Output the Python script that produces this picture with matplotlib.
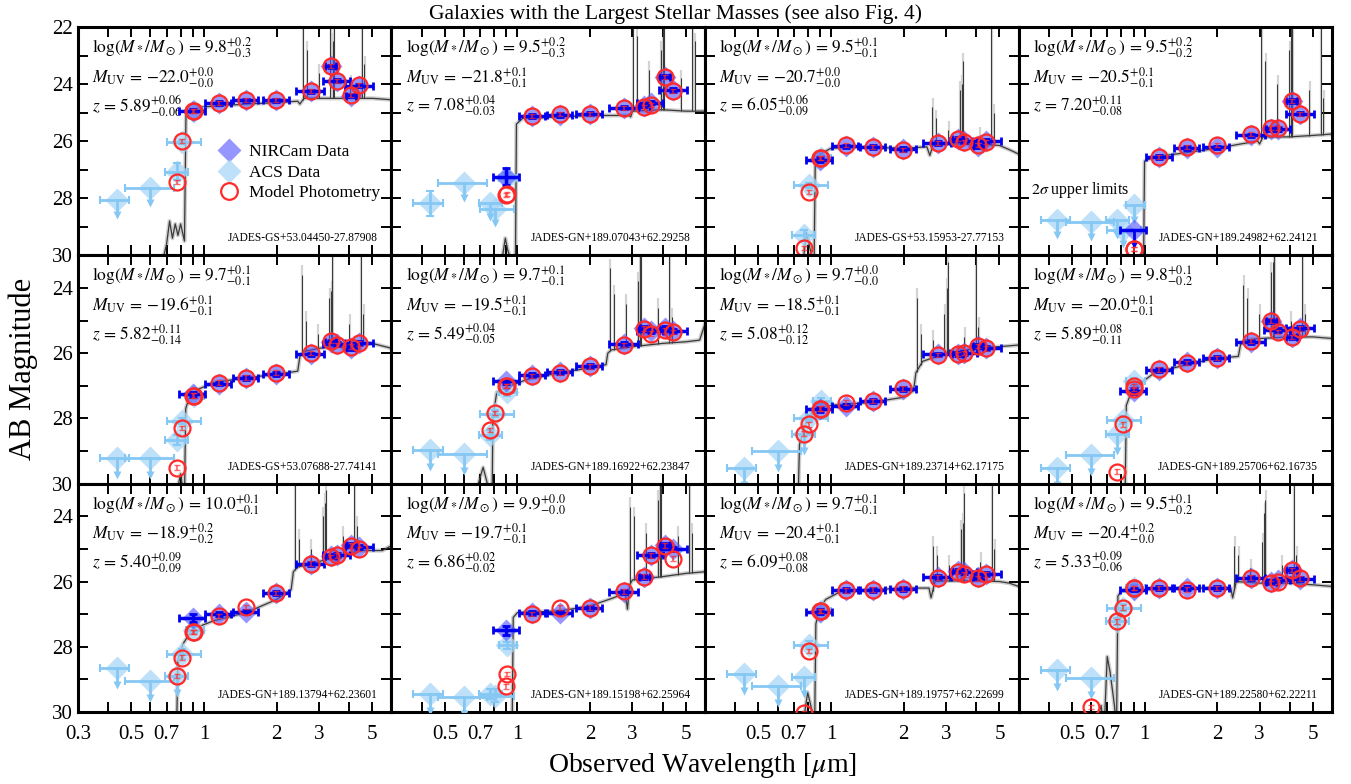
import matplotlib
matplotlib.use('Agg')
import matplotlib.pyplot as plt
from matplotlib.lines import Line2D
import numpy as np

plt.rcParams['font.family'] = 'serif'
plt.rcParams['font.serif'] = ['Liberation Serif', 'DejaVu Serif']
plt.rcParams['mathtext.fontset'] = 'stix'

# ---- filters (centre and edges, micron)
acs_wave = [0.435, 0.60, 0.77, 0.81, 0.905]
acs_lo = [0.37, 0.47, 0.69, 0.70, 0.84]
acs_hi = [0.49, 0.75, 0.86, 0.97, 1.00]
nrc_wave = [0.90, 1.15, 1.50, 1.99, 2.77, 3.36, 3.57, 4.08, 4.40]
nrc_lo = [0.79, 1.01, 1.32, 1.75, 2.40, 3.18, 3.13, 3.87, 3.85]
nrc_hi = [1.01, 1.30, 1.68, 2.25, 3.15, 3.53, 4.02, 4.29, 5.05]

# ---- panel labels
gal_id = ['JADES-GS+53.04450-27.87908', 'JADES-GN+189.07043+62.29258',
          'JADES-GS+53.15953-27.77153', 'JADES-GN+189.24982+62.24121',
          'JADES-GS+53.07688-27.74141', 'JADES-GN+189.16922+62.23847',
          'JADES-GN+189.23714+62.17175', 'JADES-GN+189.25706+62.16735',
          'JADES-GN+189.13794+62.23601', 'JADES-GN+189.15198+62.25964',
          'JADES-GN+189.19757+62.22699', 'JADES-GN+189.22580+62.22211']
mass = [('9.8', '0.2', '0.3'), ('9.5', '0.2', '0.3'), ('9.5', '0.1', '0.1'), ('9.5', '0.2', '0.2'),
        ('9.7', '0.1', '0.1'), ('9.7', '0.1', '0.1'), ('9.7', '0.0', '0.0'), ('9.8', '0.1', '0.2'),
        ('10.0', '0.1', '0.1'), ('9.9', '0.0', '0.0'), ('9.7', '0.1', '0.1'), ('9.5', '0.1', '0.2')]
muv = [('22.0', '0.0', '0.0'), ('21.8', '0.1', '0.1'), ('20.7', '0.0', '0.0'), ('20.5', '0.1', '0.1'),
       ('19.6', '0.1', '0.1'), ('19.5', '0.1', '0.1'), ('18.5', '0.1', '0.1'), ('20.0', '0.1', '0.1'),
       ('18.9', '0.2', '0.2'), ('19.7', '0.1', '0.1'), ('20.4', '0.1', '0.1'), ('20.4', '0.2', '0.0')]
zlab = [('5.89', '0.06', '0.06'), ('7.08', '0.04', '0.03'), ('6.05', '0.06', '0.09'), ('7.20', '0.11', '0.08'),
        ('5.82', '0.11', '0.14'), ('5.49', '0.04', '0.05'), ('5.08', '0.12', '0.12'), ('5.89', '0.08', '0.11'),
        ('5.40', '0.09', '0.09'), ('6.86', '0.02', '0.02'), ('6.09', '0.08', '0.08'), ('5.33', '0.09', '0.06')]

# ---- model spectrum: continuum breakpoints
cont_wave = [
    [0.66, 0.70, 0.72, 0.74, 0.76, 0.78, 0.80, 0.83, 0.842, 0.87, 1.0, 1.5, 2.0, 2.45, 2.5, 2.6, 3.0, 4.0, 5.0, 6.0],
    [0.85, 0.89, 0.91, 0.95, 0.98, 0.99, 1.05, 1.5, 2.0, 2.9, 2.95, 3.0, 4.0, 5.0, 6.0],
    [0.76, 0.79, 0.82, 0.85, 0.86, 0.9, 1.0, 1.2, 2.0, 2.5, 2.57, 2.65, 3.0, 4.0, 5.0, 5.5, 6.0],
    [0.95, 0.99, 1.0, 1.1, 1.5, 2.0, 2.5, 2.95, 3.0, 3.1, 4.0, 5.0, 6.0],
    [0.76, 0.80, 0.83, 0.84, 0.87, 0.95, 1.1, 1.5, 2.0, 2.45, 2.5, 2.6, 3.0, 4.0, 5.0, 6.0],
    [0.66, 0.70, 0.72, 0.75, 0.785, 0.79, 0.82, 0.9, 1.1, 1.5, 2.0, 2.33, 2.37, 2.45, 3.0, 4.0, 5.0, 5.7, 6.0],
    [0.70, 0.73, 0.74, 0.78, 0.85, 1.0, 1.5, 2.0, 2.2, 2.25, 2.4, 3.0, 4.0, 5.0, 6.0],
    [0.79, 0.83, 0.84, 0.87, 0.95, 1.1, 1.5, 2.0, 2.45, 2.5, 2.6, 3.0, 4.0, 5.0, 6.0],
    [0.75, 0.77, 0.78, 0.82, 0.9, 1.1, 1.5, 2.0, 2.3, 2.35, 2.45, 2.8, 3.5, 4.5, 5.5, 6.0],
    [0.92, 0.95, 0.96, 1.0, 1.5, 2.0, 2.5, 2.8, 2.86, 2.92, 3.0, 4.0, 5.0, 6.0],
    [0.76, 0.80, 0.83, 0.855, 0.865, 0.9, 0.95, 1.1, 1.5, 2.0, 2.55, 2.6, 2.7, 3.0, 4.0, 5.0, 5.5, 6.0],
    [0.62, 0.66, 0.68, 0.70, 0.72, 0.75, 0.765, 0.775, 0.8, 1.0, 1.5, 2.0, 2.28, 2.32, 2.4, 3.0, 4.0, 5.0, 6.0],
]
cont_mag = [
    [30.5, 29.6, 28.8, 29.4, 28.9, 29.3, 28.9, 29.5, 25.1, 24.9, 24.8, 24.7, 24.65, 24.6, 24.7, 24.5, 24.5, 24.5, 24.5, 24.55],
    [30.5, 29.4, 29.8, 30.3, 30.5, 25.4, 25.2, 25.15, 25.1, 25.1, 25.15, 24.95, 24.9, 24.95, 24.95],
    [30.5, 29.2, 29.8, 30.5, 26.8, 26.45, 26.25, 26.2, 26.25, 26.2, 26.5, 26.15, 26.1, 26.1, 26.15, 26.3, 26.45],
    [30.5, 30.5, 26.7, 26.55, 26.4, 26.25, 26.1, 26.0, 26.1, 25.85, 25.85, 25.8, 25.75],
    [30.5, 29.7, 30.5, 27.7, 27.35, 27.1, 26.9, 26.75, 26.65, 26.55, 26.1, 25.95, 25.85, 25.75, 25.7, 25.85],
    [30.5, 29.8, 29.5, 30.0, 30.5, 28.0, 27.2, 27.05, 26.8, 26.6, 26.45, 26.35, 26.0, 25.9, 25.8, 25.7, 25.65, 25.6, 25.1],
    [30.5, 30.5, 28.8, 28.2, 27.7, 27.6, 27.5, 27.35, 27.15, 26.6, 26.25, 26.0, 25.85, 25.8, 25.75],
    [30.5, 30.5, 27.6, 27.3, 26.95, 26.6, 26.35, 26.15, 26.1, 25.75, 25.6, 25.55, 25.5, 25.5, 25.55],
    [30.5, 30.5, 28.4, 27.9, 27.45, 27.2, 26.95, 26.55, 26.25, 25.7, 25.55, 25.45, 25.25, 25.05, 25.05, 24.9],
    [30.5, 30.5, 27.1, 26.95, 26.9, 26.75, 26.5, 26.35, 26.85, 26.1, 25.95, 25.85, 25.75, 25.7],
    [30.5, 29.4, 29.9, 30.5, 27.3, 26.8, 26.55, 26.3, 26.25, 26.2, 26.2, 26.5, 26.0, 25.98, 25.98, 26.0, 26.05, 26.15],
    [30.5, 29.8, 30.5, 28.3, 28.8, 29.8, 30.5, 26.45, 26.3, 26.25, 26.2, 26.2, 26.2, 26.5, 26.0, 26.05, 26.05, 26.1, 26.15],
]

# emission lines: rest wavelengths and peak magnitudes per panel
line_rest = [0.3727, 0.3869, 0.4341, 0.4861, 0.4959, 0.5007, 0.5876, 0.6563, 0.6725]
zval = [5.89, 7.08, 6.05, 7.20, 5.82, 5.49, 5.08, 5.89, 5.40, 6.86, 6.09, 5.33]
line_peak = [
    [21.0, 22.8, 23.6, 21.0, 22.5, 21.0, 24.0, 21.0, 23.3],
    [21.0, 22.3, 23.5, 22.8, 21.0, 21.0, 23.8, 21.0, 22.5],
    [24.8, 25.2, 25.6, 24.2, 24.0, 23.2, 25.8, 21.0, 25.0],
    [21.0, 23.2, 24.0, 22.8, 21.0, 21.0, 24.2, 21.0, 24.5],
    [23.6, 25.0, 25.4, 24.3, 24.1, 21.0, 25.1, 21.0, 24.8],
    [23.4, 24.2, 24.5, 23.8, 23.0, 21.0, 24.6, 21.0, 24.9],
    [24.3, 25.4, 25.6, 24.8, 24.0, 23.2, 25.5, 21.0, 25.2],
    [23.9, 24.3, 24.8, 23.5, 23.2, 21.0, 25.0, 21.0, 24.8],
    [21.0, 24.7, 25.0, 24.0, 23.6, 23.2, 24.6, 21.0, 24.3],
    [23.7, 24.0, 24.5, 23.5, 21.0, 21.0, 24.6, 21.0, 24.5],
    [24.9, 25.2, 25.5, 24.4, 24.2, 23.3, 25.4, 21.0, 25.0],
    [24.9, 25.2, 25.6, 24.8, 23.9, 23.5, 25.5, 21.0, 25.2],
]

# ---- NIRCam photometry (F090W F115W F150W F200W F277W F335M F356W F410M F444W)
nrc_mag = [
    [24.94, 24.67, 24.57, 24.57, 24.26, 23.38, 23.88, 24.41, 24.06],
    [27.24, 25.12, 25.08, 25.04, 24.83, 24.76, 24.65, 23.74, 24.21],
    [26.65, 26.18, 26.20, 26.28, 26.06, 25.92, 26.00, 26.18, 26.00],
    [29.12, 26.56, 26.24, 26.22, 25.80, 25.59, 25.57, 24.59, 25.04],
    [27.26, 26.93, 26.75, 26.63, 26.04, 25.65, 25.73, 25.84, 25.68],
    [26.86, 26.67, 26.57, 26.40, 25.73, 25.24, 25.33, 25.24, 25.33],
    [27.72, 27.62, 27.47, 27.09, 26.04, 26.02, 25.99, 25.78, 25.84],
    [27.16, 26.52, 26.27, 26.14, 25.65, 25.02, 25.30, 25.51, 25.22],
    [27.11, 26.99, 26.94, 26.35, 25.47, 25.23, 25.20, 24.89, 24.94],
    [27.50, 26.97, 26.95, 26.80, 26.32, 25.86, 25.20, 24.89, 24.99],
    [26.93, 26.27, 26.25, 26.22, 25.86, 25.68, 25.71, 25.86, 25.78],
    [26.25, 26.20, 26.20, 26.20, 25.88, 26.01, 25.96, 25.66, 25.91],
]
nrc_f090_err = [0.05, 0.3, 0.08, 0.3, 0.08, 0.08, 0.08, 0.08, 0.12, 0.15, 0.08, 0.05]
nrc_ul_panel = [3]          # F090W only an upper limit here
nrc_model = [
    [24.95, 24.65, 24.55, 24.55, 24.25, 23.35, 23.90, 24.40, 24.05],
    [27.87, 25.12, 25.05, 25.05, 24.83, 24.80, 24.72, 23.74, 24.23],
    [26.60, 26.15, 26.20, 26.30, 26.05, 25.93, 26.02, 26.15, 26.02],
    [29.77, 26.55, 26.20, 26.15, 25.75, 25.55, 25.55, 24.60, 25.05],
    [27.30, 26.90, 26.75, 26.60, 26.00, 25.62, 25.75, 25.80, 25.70],
    [27.00, 26.70, 26.60, 26.40, 25.75, 25.25, 25.40, 25.30, 25.35],
    [27.70, 27.52, 27.47, 27.08, 26.05, 26.03, 26.00, 25.78, 25.85],
    [27.10, 26.50, 26.30, 26.15, 25.62, 25.00, 25.35, 25.50, 25.25],
    [27.55, 27.05, 26.78, 26.35, 25.45, 25.25, 25.20, 24.90, 25.00],
    [29.21, 27.00, 26.80, 26.80, 26.30, 25.85, 25.20, 24.90, 25.30],
    [26.90, 26.27, 26.25, 26.22, 25.88, 25.70, 25.78, 25.90, 25.78],
    [26.20, 26.20, 26.25, 26.20, 25.88, 26.05, 26.00, 25.65, 25.90],
]

# ---- ACS photometry (F435W F606W F775W F814W F850LP); nan = off the plot
nan = np.nan
acs_mag = [
    [28.05, 27.65, 27.07, 26.03, 24.95],
    [28.18, 27.48, 28.15, 28.36, 27.30],
    [nan, nan, 29.30, 27.55, 26.60],
    [28.77, 28.83, 28.77, 29.10, 28.24],
    [29.20, 29.20, 28.65, 28.08, 27.30],
    [28.97, 29.10, 28.50, 27.85, 27.20],
    [29.51, 29.00, 28.47, 27.98, 27.47],
    [29.51, 29.12, 28.49, 28.06, 26.86],
    [28.65, 29.06, 28.91, 28.21, 27.48],
    [29.44, 29.54, 29.44, 29.50, 27.96],
    [28.83, 29.21, 28.93, 27.93, 26.90],
    [28.70, 28.96, 27.22, 26.80, 26.20],
]
acs_ul = [
    [1, 1, 0, 0, 0], [0, 1, 1, 1, 0], [0, 0, 0, 0, 0], [1, 1, 1, 1, 1],
    [1, 1, 0, 0, 0], [1, 1, 0, 0, 0], [1, 1, 1, 0, 0], [1, 1, 1, 0, 0],
    [1, 1, 1, 0, 0], [1, 1, 0, 0, 0], [1, 1, 1, 0, 0], [1, 1, 0, 0, 0],
]
acs_err = [
    [0.1, 0.1, 0.3, 0.08, 0.05], [0.45, 0.1, 0.1, 0.1, 0.2], [0.1, 0.1, 0.2, 0.1, 0.08], [0.1, 0.1, 0.1, 0.1, 0.1],
    [0.1, 0.1, 0.15, 0.1, 0.08], [0.1, 0.1, 0.15, 0.1, 0.1], [0.1, 0.1, 0.1, 0.1, 0.1], [0.1, 0.1, 0.1, 0.12, 0.1],
    [0.1, 0.1, 0.1, 0.15, 0.1], [0.2, 0.1, 0.15, 0.2, 0.12], [0.1, 0.1, 0.1, 0.1, 0.08], [0.1, 0.1, 0.1, 0.1, 0.08],
]
acs_model = [
    [nan, nan, 27.42, 26.00, 24.95],
    [nan, nan, nan, nan, 27.85],
    [nan, nan, 29.75, 27.77, 26.60],
    [nan, nan, nan, nan, 29.77],
    [nan, nan, 29.51, 28.29, 27.30],
    [nan, nan, 28.36, 27.83, 27.00],
    [nan, nan, 28.47, 28.18, 27.70],
    [nan, nan, 29.63, 28.18, 27.00],
    [nan, nan, 28.90, 28.33, 27.55],
    [nan, nan, nan, nan, 28.83],
    [nan, nan, 30.04, 28.13, 26.90],
    [nan, 29.85, 27.22, 26.80, 26.20],
]

c_nrc = '#5050ff'
c_nrc_bar = '#0000ee'
c_acs = '#a9d8f7'
c_acs_bar = '#86c8f4'
c_mod = '#ff2a2a'

xticks = [0.3, 0.4, 0.5, 0.6, 0.7, 0.8, 0.9, 1, 2, 3, 4, 5]
xticklabels = ['0.3', '', '0.5', '', '0.7', '', '', '1', '2', '3', '', '5']

fig, axes = plt.subplots(3, 4, figsize=(13.51, 7.84), dpi=100)
fig.subplots_adjust(left=0.0577, right=0.986, top=0.9656, bottom=0.0918,
                    hspace=0, wspace=0)

for i, ax in enumerate(axes.flat):
    row, col = divmod(i, 4)
    ax.set_xscale('log')

    # model spectrum
    cw = np.array(cont_wave[i])
    cm = np.array(cont_mag[i])
    ax.plot(cw, cm, color='#cfcfcf', lw=3.0, zorder=1, solid_joinstyle='round')
    lw_obs = np.array(line_rest) * (1 + zval[i])
    base = np.interp(lw_obs, cw, cm)
    peaks = np.array(line_peak[i])
    ax.vlines(lw_obs * 1.004, base, peaks - 0.3, color='#d4d4d4', lw=1.6, zorder=1)
    ax.vlines(lw_obs, base, peaks, color='#3a3a3a', lw=0.8, zorder=2)
    ax.plot(cw, cm, color='#3a3a3a', lw=0.9, zorder=2)

    # ACS data
    am = np.array(acs_mag[i])
    aw = np.array(acs_wave)
    xe = [aw - np.array(acs_lo), np.array(acs_hi) - aw]
    ul = np.array(acs_ul[i], dtype=bool)
    ok = ~np.isnan(am)
    ax.plot(aw[ok], am[ok], 'D', ms=12.5, color=c_acs, alpha=0.75, mec='none', zorder=3)
    for k in np.where(ok)[0]:
        if ul[k]:
            ax.errorbar(aw[k], am[k], xerr=[[xe[0][k]], [xe[1][k]]], fmt='none',
                        ecolor=c_acs_bar, elinewidth=2, capsize=3, capthick=1.5, zorder=3)
            ax.plot([aw[k], aw[k]], [am[k], am[k] + 0.5], color=c_acs_bar, lw=2, zorder=3)
            ax.plot(aw[k], am[k] + 0.52, 'v', ms=6, color=c_acs_bar, mec='none', zorder=3)
        else:
            ax.errorbar(aw[k], am[k], xerr=[[xe[0][k]], [xe[1][k]]], yerr=acs_err[i][k],
                        fmt='none', ecolor=c_acs_bar, elinewidth=2, capsize=3,
                        capthick=1.5, zorder=3)

    # NIRCam data
    nw = np.array(nrc_wave)
    nm = np.array(nrc_mag[i])
    ne = np.full(len(nw), 0.06)
    ne[0] = nrc_f090_err[i]
    nxe = [nw - np.array(nrc_lo), np.array(nrc_hi) - nw]
    ax.plot(nw, nm, 'D', ms=11.5, color=c_nrc, alpha=0.6, mec='none', zorder=4)
    if i in nrc_ul_panel:
        ax.errorbar(nw[1:], nm[1:], xerr=[nxe[0][1:], nxe[1][1:]], yerr=ne[1:], fmt='none',
                    ecolor=c_nrc_bar, elinewidth=2.5, capsize=3, capthick=2, zorder=4)
        ax.errorbar(nw[0], nm[0], xerr=[[nxe[0][0]], [nxe[1][0]]], fmt='none',
                    ecolor=c_nrc_bar, elinewidth=2.5, capsize=3, capthick=2, zorder=4)
        ax.plot([nw[0], nw[0]], [nm[0], nm[0] + 0.45], color=c_nrc_bar, lw=2, zorder=4)
        ax.plot(nw[0], nm[0] + 0.47, 'v', ms=5, color=c_nrc_bar, zorder=4)
    else:
        ax.errorbar(nw, nm, xerr=nxe, yerr=ne, fmt='none', ecolor=c_nrc_bar,
                    elinewidth=2.5, capsize=3, capthick=2, zorder=4)

    # model photometry
    mw = np.concatenate([aw, nw])
    mm = np.concatenate([acs_model[i], nrc_model[i]])
    ax.errorbar(mw, mm, yerr=0.07, fmt='none', ecolor=c_mod, elinewidth=1.2,
                capsize=2, alpha=0.7, zorder=5)
    ax.plot(mw, mm, 'o', ms=11.5, mfc='none', mec=c_mod, mew=1.6, zorder=6)

    # axes
    ax.set_xlim(0.3, 6.0)
    if row == 0:
        ax.set_ylim(30, 22)
        ax.set_yticks([22, 24, 26, 28, 30])
        ax.set_yticks([23, 25, 27, 29], minor=True)
    else:
        ax.set_ylim(30, 23)
        ax.set_yticks([24, 26, 28, 30])
        ax.set_yticks([23, 25, 27, 29], minor=True)
    ax.set_xticks(xticks)
    ax.set_xticks([], minor=True)
    if row == 2:
        labels = list(xticklabels)
        if col != 0:
            labels[0] = ''
        ax.set_xticklabels(labels)
    else:
        ax.set_xticklabels([])
    ax.tick_params(which='both', direction='in', top=True, right=True,
                   length=7, width=1.4, labelsize=15)
    ax.tick_params(axis='x', pad=9)
    if col != 0:
        ax.set_yticklabels([])
    for s in ax.spines.values():
        s.set_linewidth(2.2)

    # annotations
    m, mu, ml = mass[i]
    u, uu, ulo = muv[i]
    zz, zu, zl = zlab[i]
    ax.text(0.045, 0.91, r'$\log(M_*/M_\odot)\,=\,%s^{+%s}_{-%s}$' % (m, mu, ml),
            transform=ax.transAxes, fontsize=12.5, va='center', ha='left')
    ax.text(0.045, 0.78, r'$M_{\rm UV}\,=\,{-}%s^{+%s}_{-%s}$' % (u, uu, ulo),
            transform=ax.transAxes, fontsize=12.5, va='center', ha='left')
    ax.text(0.045, 0.655, r'$z\,=\,%s^{+%s}_{-%s}$' % (zz, zu, zl),
            transform=ax.transAxes, fontsize=12.5, va='center', ha='left')
    ax.text(0.955, 0.075, gal_id[i], transform=ax.transAxes, fontsize=8.3,
            ha='right', va='center')

axes[0, 3].text(0.04, 0.285, r'$2\sigma$ upper limits', transform=axes[0, 3].transAxes,
                fontsize=11.5, ha='left', va='center')

handles = [
    Line2D([], [], marker='D', ls='none', ms=12, color=c_nrc, alpha=0.6, mec='none'),
    Line2D([], [], marker='D', ls='none', ms=12, color=c_acs, alpha=0.75, mec='none'),
    Line2D([], [], marker='o', ls='none', ms=12, mfc='none', mec=c_mod, mew=1.6),
]
leg = axes[0, 0].legend(handles, ['NIRCam Data', 'ACS Data', 'Model Photometry'],
                        loc='upper left', bbox_to_anchor=(0.40, 0.54), frameon=False,
                        fontsize=12.5, handletextpad=0.3, labelspacing=0.25,
                        borderpad=0.2, handlelength=1.6)
leg.set_zorder(20)

fig.suptitle('Galaxies with the Largest Stellar Masses (see also Fig. 4)',
             fontsize=15.5, y=0.995)
fig.text(0.017, 0.53, 'AB Magnitude', rotation=90, fontsize=22, ha='center', va='center')
fig.text(0.52, 0.024, r'Observed Wavelength [$\mu$m]', fontsize=20, ha='center', va='center')

fig.savefig('out.png', dpi=100)
